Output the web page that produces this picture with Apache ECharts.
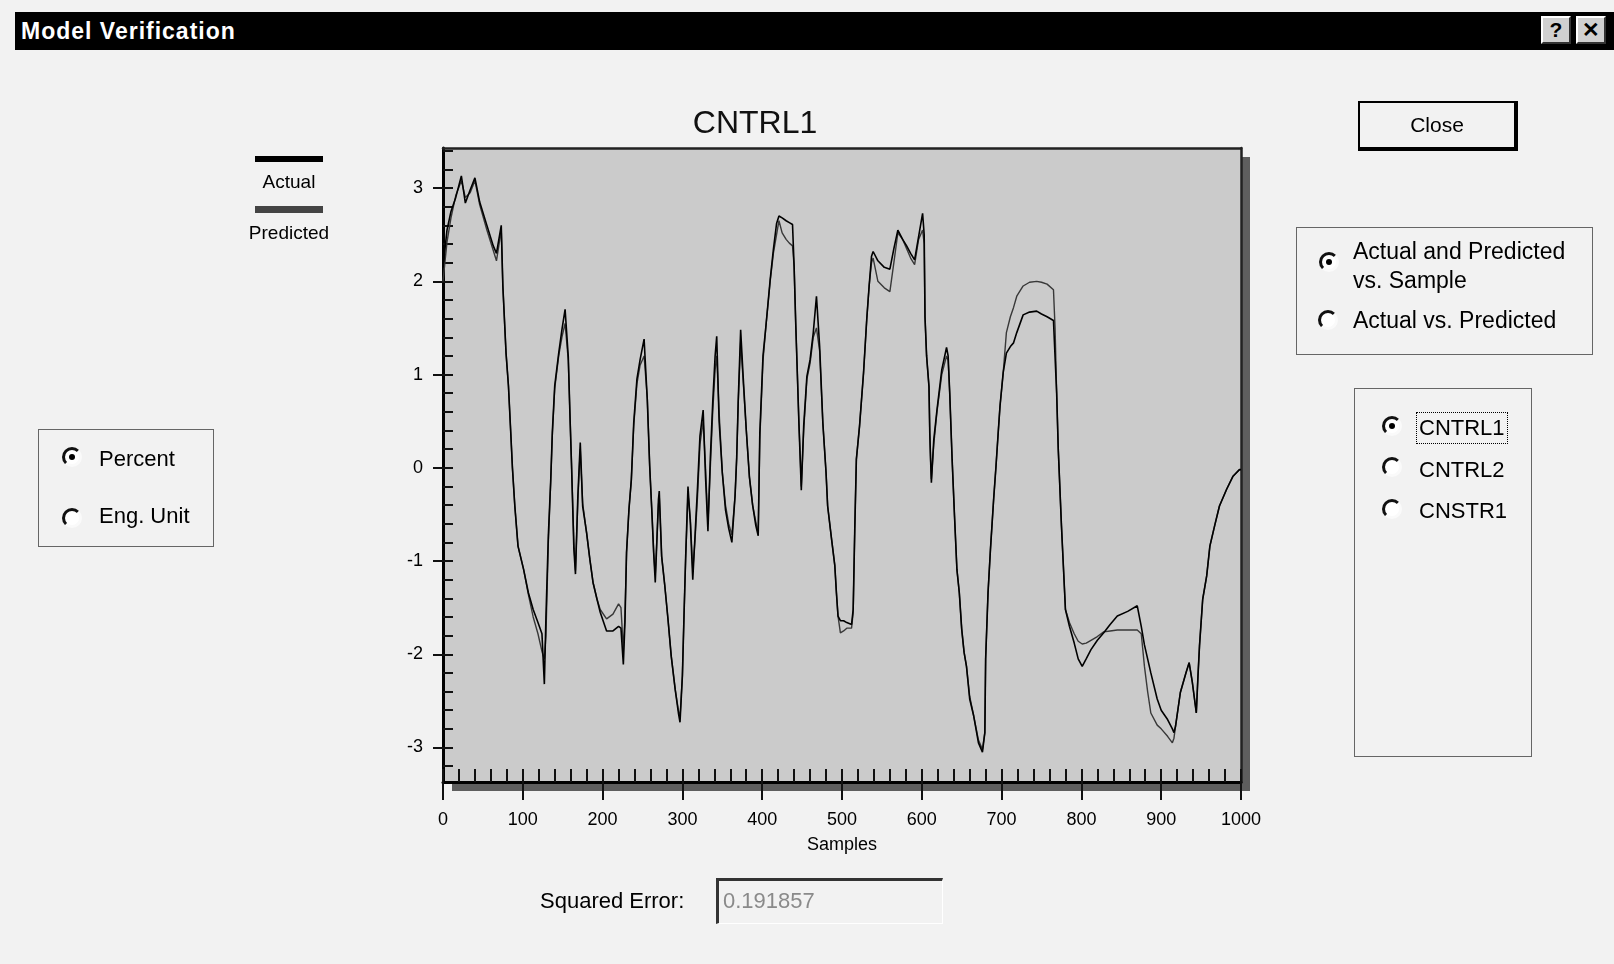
<!DOCTYPE html>
<html>
<head>
<meta charset="utf-8">
<title>Model Verification</title>
<script src="https://cdn.jsdelivr.net/npm/echarts@6/dist/echarts.min.js"></script>
<style>
  body { margin: 0; background: #f2f2f2; font-family: "Liberation Sans", Arial, sans-serif; }
  #page { position: relative; width: 1614px; height: 964px; overflow: hidden; background: #f2f2f2; }
  #chart { position: absolute; left: 0; top: 0; width: 1614px; height: 964px; }
  .abs { position: absolute; white-space: nowrap; color: #000; }
  .titlebar { left: 15px; top: 12px; width: 1599px; height: 38px; background: #000; }
  .titlebar span { position: absolute; left: 6px; top: 0; line-height: 38px; color: #fff; font-weight: bold; font-size: 23px; letter-spacing: 1px; }
  .tbtn { top: 16px; width: 30px; height: 28px; box-sizing: border-box; background: #d0d0d0;
          border: 2px solid; border-color: #fff #333 #333 #fff; font-weight: bold; font-size: 21px;
          line-height: 24px; text-align: center; }
  .group { border: 1px solid #666; box-sizing: border-box; }
  .radio { width: 20px; height: 20px; box-sizing: border-box; border-radius: 50%; border: 3px solid;
           border-color: #111 #fafafa #fafafa #111; background: #fff; }
  .radio.on::after { content: ''; position: absolute; left: 4px; top: 4px; width: 6px; height: 6px; border-radius: 50%; background: #000; }
  .lbl { font-size: 22px; line-height: 26px; }
  .close { left: 1358px; top: 101px; width: 160px; height: 50px; box-sizing: border-box; border: 2px solid #000;
           border-right-width: 4px; border-bottom-width: 4px; text-align: center; font-size: 21px; line-height: 44px; }
  .errbox { left: 716px; top: 878px; width: 227px; height: 46px; box-sizing: border-box;
            border-top: 3px solid #333; border-left: 3px solid #333; border-right: 1px solid #fff; border-bottom: 1px solid #fff;
            color: #8a8a8a; font-size: 22px; line-height: 40px; padding-left: 4px; }
  .focus { left: 1416px; top: 412px; width: 92px; height: 32px; box-sizing: border-box; border: 1px dotted #000; }
</style>
</head>
<body>
<div id="page">
  <div id="chart"></div>

  <div class="abs titlebar"><span>Model Verification</span></div>
  <div class="abs tbtn" style="left:1541px;">?</div>
  <div class="abs tbtn" style="left:1576px;">&#x2715;</div>

  <div class="abs close">Close</div>

  <div class="abs group" style="left:1296px; top:227px; width:297px; height:128px;"></div>
  <div class="abs radio on" style="left:1319px; top:252px;"></div>
  <div class="abs lbl" style="left:1353px; top:238px; font-size:23px;">Actual and Predicted</div>
  <div class="abs lbl" style="left:1353px; top:267px; font-size:23px;">vs. Sample</div>
  <div class="abs radio" style="left:1318px; top:310px;"></div>
  <div class="abs lbl" style="left:1353px; top:307px; font-size:23px;">Actual vs. Predicted</div>

  <div class="abs group" style="left:1354px; top:388px; width:178px; height:369px;"></div>
  <div class="abs focus"></div>
  <div class="abs radio on" style="left:1382px; top:416px;"></div>
  <div class="abs lbl" style="left:1419px; top:415px;">CNTRL1</div>
  <div class="abs radio" style="left:1382px; top:457px;"></div>
  <div class="abs lbl" style="left:1419px; top:457px;">CNTRL2</div>
  <div class="abs radio" style="left:1382px; top:499px;"></div>
  <div class="abs lbl" style="left:1419px; top:498px;">CNSTR1</div>

  <div class="abs group" style="left:38px; top:429px; width:176px; height:118px;"></div>
  <div class="abs radio on" style="left:62px; top:447px;"></div>
  <div class="abs lbl" style="left:99px; top:446px;">Percent</div>
  <div class="abs radio" style="left:62px; top:508px;"></div>
  <div class="abs lbl" style="left:99px; top:503px;">Eng. Unit</div>

  <div class="abs lbl" style="left:540px; top:888px;">Squared Error:</div>
  <div class="abs errbox">0.191857</div>
</div>

<script>
// sample index of each read point
const samples = [
    0, 5, 10, 16, 23, 28, 34, 40, 46, 55,
    63, 67, 73, 75, 79, 82, 85, 87, 90, 94,
    101, 107, 113, 119, 124, 127, 129, 132, 135, 137,
    140, 145, 149, 153, 157, 159, 161, 164, 166, 169,
    172, 175, 180, 184, 188, 193, 197, 205, 213, 220,
    223, 226, 228, 230, 233, 236, 239, 243, 247, 252,
    256, 259, 262, 264, 266, 270, 271, 274, 278, 282,
    286, 291, 295, 297, 300, 302, 304, 307, 310, 313,
    316, 319, 322, 326, 329, 332, 335, 338, 341, 343,
    346, 350, 354, 358, 362, 366, 368, 370, 373, 376,
    380, 384, 388, 392, 395, 397, 401, 405, 410, 414,
    418, 421, 425, 430, 434, 438, 440, 442, 444, 446,
    448, 449, 452, 456, 460, 464, 468, 472, 476, 480,
    482, 487, 491, 493, 495, 498, 502, 506, 512, 514,
    516, 518, 522, 527, 531, 534, 537, 539, 545, 553,
    560, 565, 570, 576, 581, 586, 591, 596, 601, 603,
    604, 606, 609, 610, 611, 612, 615, 619, 625, 631,
    633, 635, 638, 641, 644, 647, 650, 653, 656, 660,
    665, 671, 676, 679, 680, 683, 686, 690, 693, 696,
    698, 702, 706, 711, 715, 719, 727, 735, 744, 750,
    757, 765, 767, 769, 771, 775, 777, 780, 785, 791,
    796, 801, 806, 812, 820, 828, 836, 845, 858, 870,
    875, 879, 883, 887, 895, 900, 908, 914, 916, 918,
    924, 931, 935, 939, 944, 946, 948, 952, 957, 961,
    967, 973, 982, 990, 998, 1000
];

const actual = [
    2.15, 2.55, 2.75, 2.9, 3.13, 2.84, 2.98, 3.11, 2.85, 2.6,
    2.38, 2.3, 2.6, 1.95, 1.23, 0.88, 0.36, 0.0, -0.41, -0.84,
    -1.09, -1.34, -1.52, -1.66, -1.78, -2.32, -1.6, -0.73, -0.13, 0.38,
    0.88, 1.23, 1.48, 1.70, 1.19, 0.59, 0.05, -0.87, -1.14, -0.3,
    0.27, -0.41, -0.70, -0.98, -1.23, -1.41, -1.55, -1.75, -1.75, -1.70,
    -1.72, -2.11, -1.66, -0.91, -0.45, -0.13, 0.48, 0.95, 1.16, 1.38,
    0.73, 0.02, -0.52, -0.91, -1.23, -0.34, -0.25, -0.95, -1.27, -1.63,
    -2.02, -2.38, -2.63, -2.73, -2.23, -1.59, -0.98, -0.2, -0.6, -1.2,
    -0.7, -0.2, 0.34, 0.62, -0.1, -0.68, 0.1, 0.7, 1.2, 1.41,
    0.5, -0.05, -0.45, -0.65, -0.80, -0.3, 0.1, 0.73, 1.48, 1.0,
    0.41, -0.1, -0.4, -0.62, -0.73, 0.37, 1.20, 1.55, 2.02, 2.34,
    2.62, 2.70, 2.68, 2.65, 2.63, 2.61, 2.16, 1.55, 1.02, 0.48,
    0.0, -0.24, 0.45, 0.98, 1.16, 1.45, 1.84, 1.30, 0.48, -0.05,
    -0.41, -0.77, -1.05, -1.34, -1.59, -1.64, -1.64, -1.66, -1.68, -1.52,
    -0.66, 0.09, 0.45, 1.02, 1.59, 1.95, 2.27, 2.32, 2.22, 2.15,
    2.13, 2.35, 2.55, 2.45, 2.38, 2.3, 2.23, 2.48, 2.73, 2.5,
    1.62, 1.2, 0.87, 0.37, 0.09, -0.16, 0.3, 0.62, 1.05, 1.29,
    1.2, 0.80, 0.09, -0.52, -1.09, -1.34, -1.73, -1.98, -2.13, -2.48,
    -2.66, -2.95, -3.05, -2.84, -2.05, -1.34, -0.88, -0.34, 0.02, 0.41,
    0.66, 1.02, 1.23, 1.3, 1.34, 1.45, 1.64, 1.67, 1.68, 1.65,
    1.62, 1.58, 1.57, 0.8, 0.2, -0.62, -0.98, -1.52, -1.70, -1.88,
    -2.05, -2.13, -2.05, -1.95, -1.85, -1.77, -1.68, -1.59, -1.54, -1.48,
    -1.70, -1.9, -2.05, -2.2, -2.48, -2.6, -2.70, -2.8, -2.84, -2.77,
    -2.41, -2.20, -2.09, -2.3, -2.63, -2.25, -1.91, -1.41, -1.16, -0.84,
    -0.62, -0.41, -0.23, -0.09, -0.02, -0.02
];

const predicted = [
    2.0, 2.42, 2.68, 2.92, 3.08, 2.9, 2.95, 3.08, 2.82, 2.55,
    2.33, 2.22, 2.55, 1.95, 1.23, 0.88, 0.36, 0.0, -0.41, -0.84,
    -1.09, -1.36, -1.6, -1.78, -1.97, -2.05, -1.8, -0.8, -0.15, 0.35,
    0.85, 1.2, 1.4, 1.55, 1.15, 0.6, 0.05, -0.8, -1.1, -0.35,
    0.2, -0.38, -0.7, -0.98, -1.23, -1.41, -1.52, -1.62, -1.57, -1.46,
    -1.5, -1.95, -1.6, -0.91, -0.45, -0.13, 0.45, 0.9, 1.1, 1.2,
    0.75, 0.02, -0.52, -0.91, -1.15, -0.4, -0.3, -0.95, -1.27, -1.63,
    -2.02, -2.38, -2.6, -2.68, -2.23, -1.59, -1.0, -0.28, -0.55, -1.1,
    -0.75, -0.3, 0.25, 0.5, 0.0, -0.6, 0.0, 0.6, 1.05, 1.2,
    0.6, -0.05, -0.4, -0.6, -0.72, -0.3, 0.1, 0.7, 1.35, 0.95,
    0.41, -0.1, -0.4, -0.58, -0.7, 0.3, 1.15, 1.55, 2.0, 2.3,
    2.5, 2.65, 2.52, 2.45, 2.41, 2.38, 2.16, 1.55, 1.02, 0.48,
    0.05, -0.2, 0.4, 0.95, 1.12, 1.4, 1.5, 1.25, 0.48, -0.05,
    -0.41, -0.77, -1.05, -1.34, -1.59, -1.77, -1.75, -1.72, -1.72, -1.55,
    -0.66, 0.09, 0.45, 1.02, 1.59, 1.95, 2.2, 2.25, 2.0, 1.93,
    1.89, 2.2, 2.52, 2.45, 2.35, 2.25, 2.18, 2.45, 2.55, 2.4,
    1.62, 1.2, 0.87, 0.37, 0.09, -0.12, 0.25, 0.6, 1.0, 1.2,
    1.15, 0.8, 0.09, -0.52, -1.09, -1.34, -1.73, -1.98, -2.13, -2.45,
    -2.66, -2.92, -3.02, -2.84, -2.05, -1.34, -0.88, -0.34, 0.02, 0.41,
    0.66, 1.02, 1.45, 1.62, 1.72, 1.84, 1.95, 1.99, 2.00, 1.99,
    1.97, 1.91, 1.5, 0.8, 0.2, -0.62, -0.98, -1.52, -1.66, -1.78,
    -1.86, -1.89, -1.88, -1.85, -1.81, -1.76, -1.75, -1.74, -1.74, -1.74,
    -1.78, -2.13, -2.40, -2.63, -2.76, -2.80, -2.88, -2.95, -2.9, -2.77,
    -2.41, -2.20, -2.09, -2.3, -2.63, -2.25, -1.91, -1.41, -1.16, -0.84,
    -0.62, -0.41, -0.23, -0.09, -0.02, -0.02
];

const xTicks = [0, 100, 200, 300, 400, 500, 600, 700, 800, 900, 1000];
const yTicks = [-3, -2, -1, 0, 1, 2, 3];
const yMinorTicks = [-3.2, -3, -2.8, -2.6, -2.4, -2.2, -2, -1.8, -1.6, -1.4, -1.2, -1, -0.8, -0.6, -0.4, -0.2,
    0, 0.2, 0.4, 0.6, 0.8, 1, 1.2, 1.4, 1.6, 1.8, 2, 2.2, 2.4, 2.6, 2.8, 3, 3.2, 3.4];

if (actual.length !== samples.length || predicted.length !== samples.length) {
    throw new Error('length mismatch ' + samples.length + ' ' + actual.length + ' ' + predicted.length);
}

const FONT = 'Liberation Sans';
const tickStyle = { color: '#111', width: 2 };

var myChart = echarts.init(document.getElementById('chart'));

option = {
    animation: false,
    title: {
        text: 'CNTRL1',
        left: 755,
        top: 108,
        padding: 0,
        textAlign: 'center',
        textStyle: { fontSize: 32, fontWeight: 'normal', color: '#111', fontFamily: FONT }
    },
    grid: {
        left: 443,
        top: 148,
        width: 798,
        height: 634,
        containLabel: false,
        show: true,
        backgroundColor: '#cbcbcb',
        borderWidth: 0,
        shadowColor: '#5e5e5e',
        shadowBlur: 0,
        shadowOffsetX: 9,
        shadowOffsetY: 9
    },
    xAxis: [{
        type: 'value',
        min: 0,
        max: 1000,
        interval: 20,
        position: 'bottom',
        axisLine: { show: true, onZero: false, lineStyle: { color: '#000', width: 3 } },
        axisTick: { show: true, inside: true, length: 13, lineStyle: tickStyle },
        axisLabel: { show: false },
        splitLine: { show: false }
    }, {
        type: 'value',
        min: 0,
        max: 1000,
        position: 'bottom',
        axisLine: { show: false, onZero: false },
        axisTick: { show: true, inside: false, length: 18, customValues: xTicks, lineStyle: tickStyle },
        axisLabel: {
            customValues: xTicks, margin: 29, fontSize: 18, color: '#000', fontFamily: FONT,
            formatter: function (v) { return String(v); }
        },
        splitLine: { show: false },
        name: 'Samples',
        nameLocation: 'middle',
        nameGap: 54,
        nameTextStyle: { fontSize: 18, color: '#000', fontFamily: FONT }
    }, {
        // top frame line of the plot box
        type: 'value',
        min: 0,
        max: 1000,
        position: 'top',
        axisLine: { show: true, onZero: false, lineStyle: { color: '#222', width: 2.5 } },
        axisTick: { show: false },
        axisLabel: { show: false },
        splitLine: { show: false }
    }],
    yAxis: [{
        type: 'value',
        min: -3.37,
        max: 3.43,
        position: 'left',
        axisLine: { show: true, onZero: false, lineStyle: { color: '#000', width: 3 } },
        axisTick: { show: true, inside: true, length: 10, customValues: yMinorTicks, lineStyle: tickStyle },
        axisLabel: { show: false },
        splitLine: { show: false }
    }, {
        type: 'value',
        min: -3.37,
        max: 3.43,
        position: 'left',
        axisLine: { show: false, onZero: false },
        axisTick: { show: true, inside: false, length: 10, customValues: yTicks, lineStyle: tickStyle },
        axisLabel: { customValues: yTicks, margin: 20, fontSize: 18, color: '#000', fontFamily: FONT },
        splitLine: { show: false }
    }, {
        // right frame line of the plot box
        type: 'value',
        min: -3.37,
        max: 3.43,
        position: 'right',
        axisLine: { show: true, onZero: false, lineStyle: { color: '#222', width: 2.5 } },
        axisTick: { show: false },
        axisLabel: { show: false },
        splitLine: { show: false }
    }],
    graphic: [
        { type: 'rect', shape: { x: 255, y: 156, width: 68, height: 6 }, style: { fill: '#000' } },
        { type: 'text', x: 289, y: 183, style: { text: 'Actual', fill: '#000', font: '19px "Liberation Sans"', textAlign: 'center', textVerticalAlign: 'middle' } },
        { type: 'rect', shape: { x: 255, y: 206, width: 68, height: 7 }, style: { fill: '#444' } },
        { type: 'text', x: 289, y: 234, style: { text: 'Predicted', fill: '#000', font: '19px "Liberation Sans"', textAlign: 'center', textVerticalAlign: 'middle' } }
    ],
    series: [{
        name: 'Predicted',
        type: 'line',
        xAxisIndex: 0,
        yAxisIndex: 0,
        symbol: 'none',
        z: 2,
        lineStyle: { color: '#383838', width: 1.4 },
        data: samples.map(function (s, i) { return [s, predicted[i]]; })
    }, {
        name: 'Actual',
        type: 'line',
        xAxisIndex: 0,
        yAxisIndex: 0,
        symbol: 'none',
        z: 3,
        lineStyle: { color: '#000', width: 1.6 },
        data: samples.map(function (s, i) { return [s, actual[i]]; })
    }]
};
myChart.setOption(option);
</script>
</body>
</html>
